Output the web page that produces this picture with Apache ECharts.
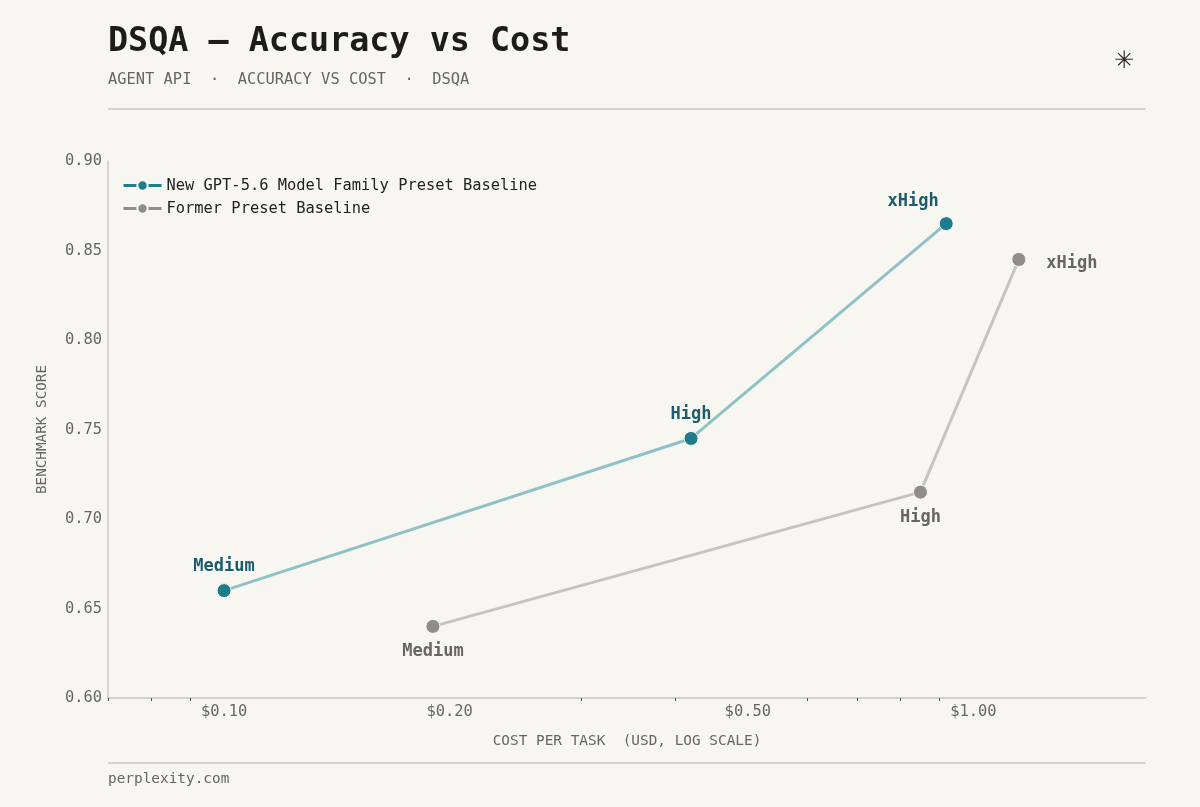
<!DOCTYPE html>
<html>
<head>
<meta charset="utf-8">
<script src="https://cdn.jsdelivr.net/npm/echarts@6/dist/echarts.min.js"></script>
<style>
  html, body { margin: 0; padding: 0; background: #f7f6f1; }
  #chart { width: 1200px; height: 807px; }
</style>
</head>
<body>
<div id="chart"></div>
<script>
var levels = ['Medium', 'High', 'xHigh'];
var newCost = [0.10, 0.42, 0.92];
var newScore = [0.66, 0.745, 0.865];
var oldCost = [0.19, 0.85, 1.15];
var oldScore = [0.64, 0.715, 0.845];
var costLabels = [0.1, 0.2, 0.5, 1.0];
var costMinorTicks = [0.07, 0.08, 0.09, 0.3, 0.4, 0.6, 0.7, 0.8, 0.9];

var mono = '"DejaVu Sans Mono", monospace';
var chart = echarts.init(document.getElementById('chart'));

// label placement per point
var newPos = [
  { position: 'top', distance: 8 },
  { position: 'top', distance: 8 },
  { position: 'top', distance: 7, offset: [-33, 1] }
];
var oldPos = [
  { position: 'bottom', distance: 9 },
  { position: 'bottom', distance: 9 },
  { position: 'right', distance: 20, offset: [0, 4] }
];

function points(cost, score, pos) {
  var out = [];
  for (var i = 0; i < cost.length; i++) {
    out.push({ value: [cost[i], score[i]], name: levels[i], label: pos[i] });
  }
  return out;
}

var option = {
  backgroundColor: '#f7f6f1',
  animation: false,
  title: {
    text: 'DSQA \u2014 Accuracy vs Cost',
    subtext: 'AGENT API  \u00b7  ACCURACY VS COST  \u00b7  DSQA',
    left: 103,
    top: 21,
    itemGap: 13,
    textStyle: { fontFamily: mono, fontSize: 33.4, fontWeight: 'bold', color: '#1c1c1a' },
    subtextStyle: { fontFamily: mono, fontSize: 15.4, color: '#666' }
  },
  legend: {
    left: 117,
    top: 173,
    orient: 'vertical',
    itemWidth: 38,
    itemHeight: 13,
    itemGap: 8,
    textStyle: { fontFamily: mono, fontSize: 15.4, color: '#222' },
    data: [
      { name: 'New GPT-5.6 Model Family Preset Baseline', itemStyle: { color: '#1e7d8c' }, lineStyle: { color: '#1e7d8c', width: 3 } },
      { name: 'Former Preset Baseline', itemStyle: { color: '#8e8d89' }, lineStyle: { color: '#8e8d89', width: 3 } }
    ]
  },
  grid: { left: 108, right: 54, top: 161, bottom: 109 },
  xAxis: {
    type: 'log',
    min: 0.07,
    max: 1.7,
    name: 'COST PER TASK  (USD, LOG SCALE)',
    nameLocation: 'middle',
    nameGap: 36,
    nameTextStyle: { fontFamily: mono, fontSize: 14.4, color: '#666' },
    axisLine: { lineStyle: { color: '#c9c8c3', width: 1.5 } },
    axisTick: { show: true, length: 3, customValues: costMinorTicks, lineStyle: { color: '#555' } },
    axisLabel: {
      customValues: costLabels,
      margin: 6,
      fontFamily: mono, fontSize: 15.4, color: '#666',
      formatter: function (v) { return '$' + v.toFixed(2); }
    },
    splitLine: { show: false },
    minorTick: { show: false }
  },
  yAxis: {
    type: 'value',
    min: 0.6,
    max: 0.9,
    interval: 0.05,
    name: 'BENCHMARK SCORE',
    nameLocation: 'middle',
    nameGap: 59,
    nameTextStyle: { fontFamily: mono, fontSize: 14.3, color: '#666' },
    axisLine: { show: true, lineStyle: { color: '#c9c8c3', width: 1.5 } },
    axisTick: { show: false },
    axisLabel: {
      margin: 6,
      fontFamily: mono, fontSize: 15.4, color: '#666',
      formatter: function (v) { return v.toFixed(2); }
    },
    splitLine: { show: false }
  },
  series: [
    {
      name: 'New GPT-5.6 Model Family Preset Baseline',
      type: 'line',
      data: points(newCost, newScore, newPos),
      symbol: 'circle',
      symbolSize: 14,
      lineStyle: { color: '#8fc2c7', width: 3 },
      itemStyle: { color: '#1e7d8c', borderColor: '#f7f6f1', borderWidth: 1 },
      label: {
        show: true,
        formatter: '{b}',
        fontFamily: mono, fontSize: 17, fontWeight: 'bold', color: '#1b5d6b'
      },
      z: 3
    },
    {
      name: 'Former Preset Baseline',
      type: 'line',
      data: points(oldCost, oldScore, oldPos),
      symbol: 'circle',
      symbolSize: 14,
      lineStyle: { color: '#c6c4bf', width: 3 },
      itemStyle: { color: '#8e8d89', borderColor: '#f7f6f1', borderWidth: 1 },
      label: {
        show: true,
        formatter: '{b}',
        fontFamily: mono, fontSize: 17, fontWeight: 'bold', color: '#676662'
      },
      z: 2
    }
  ],
  graphic: [
    { type: 'line', shape: { x1: 108, y1: 109, x2: 1146, y2: 109 }, style: { stroke: '#c9c8c3', lineWidth: 1.5 } },
    { type: 'line', shape: { x1: 108, y1: 763, x2: 1146, y2: 763 }, style: { stroke: '#c9c8c3', lineWidth: 1.5 } },
    { type: 'text', left: 1114, top: 50, style: { text: '\u2733', font: '24px "DejaVu Sans"', fill: '#2a2a28' } },
    { type: 'text', left: 108, top: 772, style: { text: 'perplexity.com', font: '14.4px "DejaVu Sans Mono"', fill: '#666' } }
  ]
};

chart.setOption(option);
</script>
</body>
</html>
